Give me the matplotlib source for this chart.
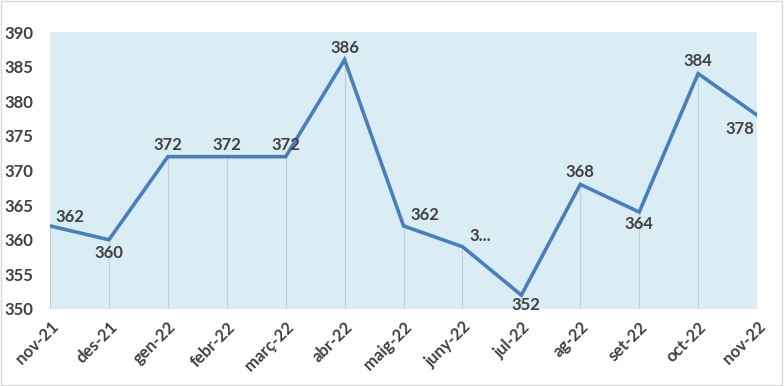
import matplotlib.pyplot as plt

months = ['nov-21', 'des-21', 'gen-22', 'febr-22', 'març-22', 'abr-22', 'maig-22',
          'juny-22', 'jul-22', 'ag-22', 'set-22', 'oct-22', 'nov-22']
values = [362, 360, 372, 372, 372, 386, 362, 359, 352, 368, 364, 384, 378]
labels = ['362', '360', '372', '372', '372', '386', '362', '3...', '352', '368', '364', '384', '378']
# label placement (dx, dy in points, ha, va)
offsets = [(4, 1, 'left', 'bottom'), (0, -4, 'center', 'top'), (0, 3, 'center', 'bottom'),
           (0, 3, 'center', 'bottom'), (0, 3, 'center', 'bottom'), (0, 3, 'center', 'bottom'),
           (5, 2, 'left', 'bottom'), (5, 2, 'left', 'bottom'), (3, -1, 'center', 'top'),
           (0, 3, 'center', 'bottom'), (0, -3, 'center', 'top'), (0, 3, 'center', 'bottom'),
           (-2, -4, 'right', 'top')]

plt.rcParams['font.family'] = ['Lato', 'DejaVu Sans']
txt = '#404040'

fig = plt.figure(figsize=(7.84, 3.86), dpi=100)
ax = fig.add_axes([0.0638, 0.1995, 0.9018, 0.7175])
ax.set_facecolor('#daedf4')
x = list(range(len(months)))

ax.vlines(x, 350, values, color='#c3cfd6', linewidth=0.8, zorder=1)
ax.plot(x, values, color='#4a7ebb', linewidth=2.6, zorder=3, solid_joinstyle='miter')

for i, (v, l) in enumerate(zip(values, labels)):
    dx, dy, ha, va = offsets[i]
    ax.annotate(l, (i, v), xytext=(dx, dy), textcoords='offset points', ha=ha, va=va,
                fontsize=12, fontweight='bold', color=txt, zorder=4)

ax.set_xlim(0, len(months) - 1)
ax.set_ylim(350, 390)
ax.set_yticks(range(350, 391, 5))
ax.set_xticks(x)
ax.set_xticklabels(months, rotation=45, ha='right', rotation_mode='anchor')
ax.tick_params(axis='both', length=0, labelsize=12, labelcolor=txt)
ax.tick_params(axis='y', pad=12)
ax.tick_params(axis='x', pad=7)
for t in ax.get_xticklabels() + ax.get_yticklabels():
    t.set_fontweight('bold')
for s in ax.spines.values():
    s.set_visible(False)

fig.patches.append(plt.Rectangle((0.001, 0.002), 0.997, 0.995, transform=fig.transFigure,
                                 fill=False, edgecolor='#d9d9d9', linewidth=1))
fig.savefig('out.png', dpi=100)
